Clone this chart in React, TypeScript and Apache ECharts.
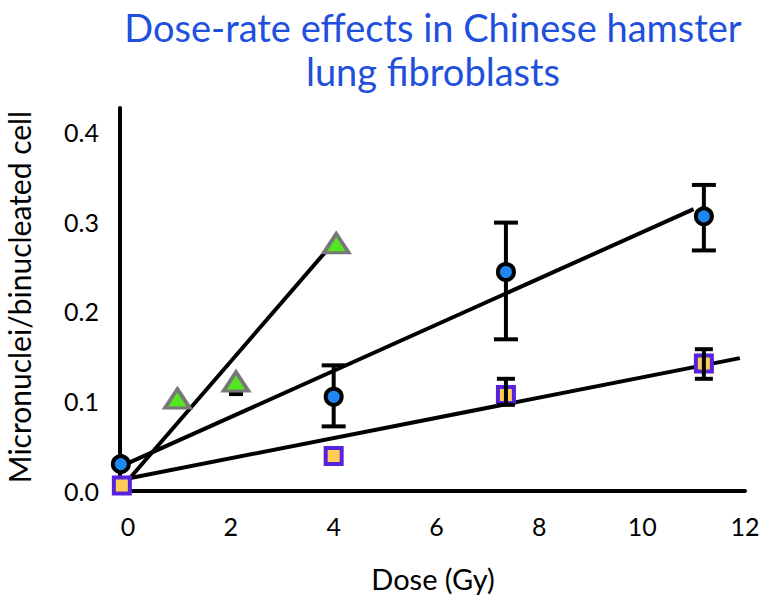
import React, { useEffect, useRef } from "react";
import * as echarts from "echarts";

// Tick labels
const xTicks = [0, 2, 4, 6, 8, 10, 12];
const yTicks = [0, 0.1, 0.2, 0.3, 0.4];

// Blue circles: dose, value, lower, upper
const circleDose = [-0.14, 4, 7.35, 11.2];
const circleVal = [0.03, 0.105, 0.244, 0.306];
const circleLow = [null, 0.072, 0.169, 0.268];
const circleHigh = [null, 0.14, 0.299, 0.341];

// Green triangles
const triDose = [0.96, 2.1, 4.05];
const triVal = [0.103, 0.122, 0.276];
const triLow = [null, 0.108, null];
const triHigh = [null, 0.122, null];

// Yellow squares
const sqDose = [-0.12, 4, 7.35, 11.2];
const sqVal = [0.006, 0.039, 0.107, 0.142];
const sqLow = [null, null, 0.096, 0.125];
const sqHigh = [null, null, 0.125, 0.158];

// Fitted lines (start/end)
const circleFit = [[0, 0.031], [11.0, 0.314]];
const triFit = [[0, 0.012], [4.0, 0.277]];
const sqFit = [[0, 0.014], [11.9, 0.148]];

const FONT = "Lato";

function errData(d: number[], lo: (number | null)[], hi: (number | null)[]) {
  const out: number[][] = [];
  d.forEach((x, i) => {
    if (lo[i] != null && hi[i] != null) out.push([x, lo[i] as number, hi[i] as number]);
  });
  return out;
}

function errSeries(data: number[][], hw: number, z: number) {
  return {
    type: "custom",
    z,
    data,
    renderItem: (_p: any, api: any) => {
      const x = api.value(0);
      const a = api.coord([x, api.value(1)]);
      const b = api.coord([x, api.value(2)]);
      const st = { stroke: "#000", lineWidth: 4 };
      return {
        type: "group",
        children: [
          { type: "line", shape: { x1: a[0], y1: a[1], x2: b[0], y2: b[1] }, style: st },
          { type: "line", shape: { x1: a[0] - hw, y1: a[1], x2: a[0] + hw, y2: a[1] }, style: st },
          { type: "line", shape: { x1: b[0] - hw, y1: b[1], x2: b[0] + hw, y2: b[1] }, style: st },
        ],
      };
    },
  };
}

export default function App() {
  const ref = useRef<HTMLDivElement>(null);
  useEffect(() => {
    if (!ref.current) return;
    const chart = echarts.init(ref.current, null, { renderer: "svg" });
    const lineStyle = { color: "#000", width: 4 };
    chart.setOption({
      animation: false,
      backgroundColor: "#fff",
      grid: { left: 120, right: 18, top: 108, bottom: 110, outerBoundsMode: "none" },
      xAxis: {
        type: "value",
        min: -0.156,
        max: 12,
        axisLine: { show: true, onZero: false, lineStyle: { color: "#000", width: 4 } },
        axisTick: { show: false },
        splitLine: { show: false },
        axisLabel: {
          customValues: xTicks,
          color: "#000",
          fontSize: 25,
          fontFamily: FONT,
          margin: 22,
        },
      },
      yAxis: {
        type: "value",
        min: 0,
        max: 0.4267,
        axisLine: { show: true, onZero: false, lineStyle: { color: "#000", width: 4 } },
        axisTick: { show: false },
        splitLine: { show: false },
        axisLabel: {
          customValues: yTicks,
          formatter: (v: number) => v.toFixed(1),
          color: "#000",
          fontSize: 25,
          fontFamily: FONT,
          margin: 21,
        },
      },
      graphic: [
        {
          type: "text",
          x: 433,
          y: 5,
          style: {
            text: "Dose-rate effects in Chinese hamster\nlung fibroblasts",
            fill: "#1e4fdd",
            font: `38px ${FONT}`,
            textAlign: "center",
            lineHeight: 44,
          },
        },
        {
          type: "text",
          x: 433,
          y: 578,
          style: {
            text: "Dose (Gy)",
            fill: "#000",
            font: `29px ${FONT}`,
            textAlign: "center",
            textVerticalAlign: "middle",
          },
        },
        {
          type: "text",
          x: 19,
          y: 297,
          rotation: Math.PI / 2,
          style: {
            text: "Micronuclei/binucleated cell",
            fill: "#000",
            font: `30px ${FONT}`,
            textAlign: "center",
            textVerticalAlign: "middle",
          },
        },
      ],
      series: [
        { type: "line", data: circleFit, symbol: "none", lineStyle, z: 1 },
        { type: "line", data: triFit, symbol: "none", lineStyle, z: 1 },
        { type: "line", data: sqFit, symbol: "none", lineStyle, z: 1 },
        errSeries(errData(circleDose, circleLow, circleHigh), 12, 2),
        errSeries(errData(triDose, triLow, triHigh), 7, 2),
        {
          type: "scatter",
          z: 3,
          data: circleDose.map((d, i) => [d, circleVal[i]]),
          symbol: "circle",
          symbolSize: 16,
          itemStyle: { color: "#1e88f2", borderColor: "#000", borderWidth: 4, opacity: 1 },
        },
        {
          type: "scatter",
          z: 3,
          data: triDose.map((d, i) => [d, triVal[i]]),
          symbol: "triangle",
          symbolSize: [25, 19],
          itemStyle: { color: "#55e622", borderColor: "#777", borderWidth: 3.5, opacity: 1 },
        },
        {
          type: "scatter",
          z: 3,
          data: sqDose.map((d, i) => [d, sqVal[i]]),
          symbol: "rect",
          symbolSize: 16,
          itemStyle: { color: "#ffcc55", borderColor: "#5522dd", borderWidth: 4, opacity: 1 },
        },
        errSeries(errData(sqDose, sqLow, sqHigh), 9, 4),
      ],
    });
    return () => chart.dispose();
  }, []);
  return <div ref={ref} style={{ width: 763, height: 601, position: "absolute", left: 0, top: 0 }} />;
}
